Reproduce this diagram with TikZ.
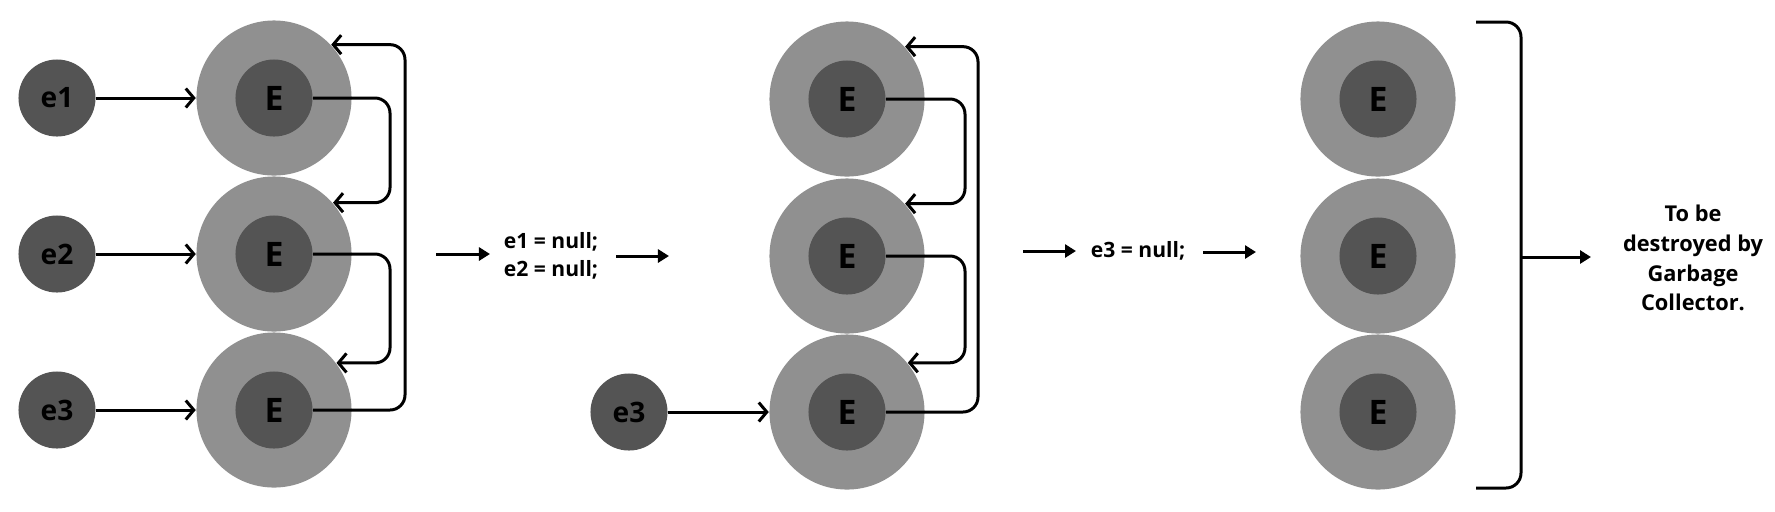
\documentclass[tikz,border=0pt]{standalone}
\usepackage{fontspec}
\setmainfont{Open Sans}
\usetikzlibrary{arrows.meta,calc}
\definecolor{ringgray}{HTML}{909090}
\definecolor{coregray}{HTML}{545454}
\begin{document}
\begin{tikzpicture}[x=0.01cm,y=-0.01cm,
  outer/.style={circle, fill=ringgray, minimum size=1.55cm, inner sep=0pt},
  core/.style={circle, fill=coregray, minimum size=0.77cm, inner sep=0pt, font=\bfseries\fontsize{9.6}{11}\selectfont},
  var/.style={circle, fill=coregray, minimum size=0.77cm, inner sep=0pt, font=\bfseries\fontsize{8}{9}\selectfont},
  conn/.style={line width=0.03cm, -{Straight Barb[length=0.08cm, width=0.19cm]}},
  loopconn/.style={conn, rounded corners=0.15cm},
  stagearrow/.style={line width=0.03cm, -{Triangle[length=0.11cm, width=0.13cm]}},
  codetext/.style={font=\bfseries\fontsize{6}{8}\selectfont, align=left, inner sep=0pt},
  gctext/.style={font=\bfseries\fontsize{6.2}{8.5}\selectfont, align=center, inner sep=0pt}
]
\useasboundingbox (0,0) rectangle (1775,511);

% ---------- Stage 1 ----------
\foreach \i/\y in {1/98,2/254,3/410}{
  \node[outer] (A\i) at (274,\y) {};
  \node[core] (I\i) at (274,\y) {E};
  \node[var] (v\i) at (57,\y) {e\i};
}
\foreach \i in {1,2,3}{ \draw[conn] (v\i) -- (A\i); }
\coordinate (c1) at (390,0);
\coordinate (c1b) at (405,0);
\draw[loopconn] (I1.east) -| (c1 |- A2.41) -- (A2.41);
\draw[loopconn] (I2.east) -| (c1 |- A3.37) -- (A3.37);
\draw[loopconn] (I3.east) -| (c1b |- A1.43) -- (A1.43);

% ---------- transition 1 ----------
\coordinate (t1a) at (436,254);
\coordinate (t1b) at (490,254);
\draw[stagearrow] (t1a) -- (t1b);
\node[codetext] (code1) at (551,256) {e1 = null;\\e2 = null;};
\coordinate (t2a) at (616,256);
\coordinate (t2b) at (669,256);
\draw[stagearrow] (t2a) -- (t2b);

% ---------- Stage 2 ----------
\foreach \i/\y in {1/99,2/256,3/412}{
  \node[outer] (B\i) at (847,\y) {};
  \node[core] (J\i) at (847,\y) {E};
}
\node[var] (w3) at (629,412) {e3};
\draw[conn] (w3) -- (B3);
\coordinate (c2) at (965,0);
\coordinate (c2b) at (978,0);
\draw[loopconn] (J1.east) -| (c2 |- B2.42) -- (B2.42);
\draw[loopconn] (J2.east) -| (c2 |- B3.39) -- (B3.39);
\draw[loopconn] (J3.east) -| (c2b |- B1.42) -- (B1.42);

% ---------- transition 2 ----------
\coordinate (t3a) at (1023,251);
\coordinate (t3b) at (1076,251);
\draw[stagearrow] (t3a) -- (t3b);
\node[codetext] (code2) at (1138,251) {e3 = null;};
\coordinate (t4a) at (1203,252);
\coordinate (t4b) at (1256,252);
\draw[stagearrow] (t4a) -- (t4b);

% ---------- Stage 3 ----------
\foreach \i/\y in {1/99,2/256,3/412}{
  \node[outer] (C\i) at (1378,\y) {};
  \node[core] (K\i) at (1378,\y) {E};
}
\coordinate (bt) at (1476,22);
\coordinate (bb) at (1476,488);
\coordinate (bx) at (1521,0);
\draw[line width=0.03cm, rounded corners=0.15cm] (bt) -- (bx |- bt) -- (bx |- bb) -- (bb);
\coordinate (bm) at (1521,257);
\coordinate (gcarrow) at (1591,257);
\draw[stagearrow] (bm) -- (gcarrow);
\node[gctext] (gc) at (1693,258) {To be\\destroyed by\\Garbage\\Collector.};
\end{tikzpicture}
\end{document}
